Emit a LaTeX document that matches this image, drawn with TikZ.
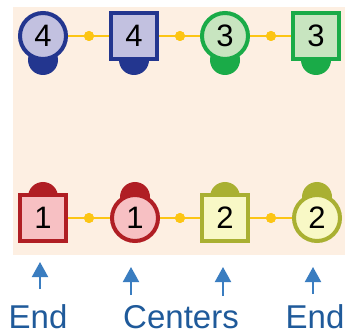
\documentclass[tikz,border=0pt]{standalone}
\usepackage{fontspec}
\setmainfont{Liberation Sans}
\usetikzlibrary{arrows.meta}
\definecolor{bg}{HTML}{FDEFE2}
\definecolor{bdark}{HTML}{23368F}
\definecolor{bfill}{HTML}{C2C1E0}
\definecolor{gdark}{HTML}{1AAB48}
\definecolor{gfill}{HTML}{C8E5C0}
\definecolor{rdark}{HTML}{B01E24}
\definecolor{rfill}{HTML}{F7C0C3}
\definecolor{odark}{HTML}{A9B032}
\definecolor{ofill}{HTML}{F8F8C6}
\definecolor{yel}{HTML}{FCC514}
\definecolor{arr}{HTML}{3A7DC0}
\definecolor{txt}{HTML}{1F5A9A}
\tikzset{
  cnode/.style={circle,line width=4pt,minimum size=46pt,inner sep=0pt,font=\fontsize{31}{33}\selectfont},
  snode/.style={rectangle,line width=4pt,minimum size=46pt,inner sep=0pt,font=\fontsize{31}{33}\selectfont},
  blue/.style={draw=bdark,fill=bfill},
  green/.style={draw=gdark,fill=gfill},
  red/.style={draw=rdark,fill=rfill},
  olive/.style={draw=odark,fill=ofill},
  dotn/.style={circle,fill=yel,minimum size=10pt,inner sep=0pt},
  link/.style={draw=yel,line width=2.5pt},
  upar/.style={draw=arr,line width=2pt,-{Triangle[width=16pt,length=15pt]}},
  lbl/.style={text=txt,font=\fontsize{33}{35}\selectfont,inner sep=0pt,anchor=base}
}
\begin{document}
\begin{tikzpicture}[x=1pt,y=-1pt]
\useasboundingbox (0,0) rectangle (347,336);
\fill[bg] (13,7) rectangle (345,255);
% bumps
\fill[bdark] (43,60) circle (15);
\fill[bdark] (134,60) circle (15);
\fill[gdark] (225,60) circle (15);
\fill[gdark] (316,60) circle (15);
\fill[rdark] (43,197) circle (15);
\fill[rdark] (135,197) circle (15);
\fill[odark] (225,197) circle (15);
\fill[odark] (317,197) circle (15);
% dots
\node[dotn] (d1) at (89,36) {};
\node[dotn] (d2) at (180,36) {};
\node[dotn] (d3) at (271,36) {};
\node[dotn] (d4) at (89,218) {};
\node[dotn] (d5) at (180,218) {};
\node[dotn] (d6) at (271,218) {};
% nodes
\node[cnode,blue] (a1) at (43,36) {4};
\node[snode,blue] (a2) at (134,36) {4};
\node[cnode,green] (a3) at (225,36) {3};
\node[snode,green] (a4) at (316,36) {3};
\node[snode,red] (b1) at (43,218) {1};
\node[cnode,red] (b2) at (135,218) {1};
\node[snode,olive] (b3) at (225,218) {2};
\node[cnode,olive] (b4) at (317,218) {2};
% connectors
\draw[link] (a1) -- (d1) -- (a2) -- (d2) -- (a3) -- (d3) -- (a4);
\draw[link] (b1) -- (d4) -- (b2) -- (d5) -- (b3) -- (d6) -- (b4);
\node[dotn] at (d1) {};
\node[dotn] at (d2) {};
\node[dotn] at (d3) {};
\node[dotn] at (d4) {};
\node[dotn] at (d5) {};
\node[dotn] at (d6) {};
% arrows
\coordinate (t1) at (40,289);
\coordinate (h1) at (40,262);
\coordinate (t2) at (131,295);
\coordinate (h2) at (131,267);
\coordinate (t3) at (223,296);
\coordinate (h3) at (223,267);
\coordinate (t4) at (313,294);
\coordinate (h4) at (313,267);
\draw[upar] (t1) -- (h1);
\draw[upar] (t2) -- (h2);
\draw[upar] (t3) -- (h3);
\draw[upar] (t4) -- (h4);
\node[lbl] (l1) at (38,328) {End};
\node[lbl] (l2) at (181,328) {Centers};
\node[lbl] (l3) at (315,328) {End};
\end{tikzpicture}
\end{document}
